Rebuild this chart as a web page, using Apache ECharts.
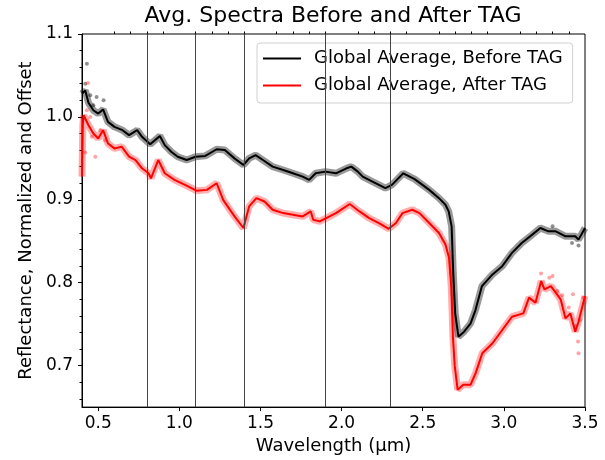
<!DOCTYPE html>
<html>
<head>
<meta charset="utf-8">
<script src="https://cdn.jsdelivr.net/npm/echarts@6/dist/echarts.min.js"></script>
<style>html,body{margin:0;padding:0;background:#fff;}#c{width:605px;height:460px;}</style>
</head>
<body>
<div id="c"></div>
<script>
// ---- data ----
const beforeX = [0.40,0.42,0.44,0.47,0.50,0.53,0.56,0.60,0.65,0.69,0.74,0.77,0.82,0.85,0.88,0.91,0.95,0.99,1.045,1.10,1.16,1.23,1.28,1.34,1.395,1.43,1.47,1.515,1.575,1.64,1.70,1.76,1.80,1.84,1.90,1.965,2.03,2.06,2.10,2.13,2.19,2.27,2.31,2.38,2.45,2.54,2.60,2.64,2.66,2.678,2.688,2.70,2.72,2.755,2.795,2.825,2.865,2.93,2.99,3.05,3.11,3.175,3.225,3.275,3.32,3.38,3.44,3.46,3.50];
const beforeY = [1.028,1.032,1.017,1.008,1.004,1.009,0.994,0.988,0.984,0.978,0.984,0.976,0.967,0.972,0.977,0.966,0.958,0.952,0.948,0.952,0.953,0.961,0.960,0.950,0.942,0.950,0.954,0.948,0.940,0.936,0.932,0.928,0.924,0.932,0.934,0.932,0.938,0.940,0.934,0.928,0.922,0.914,0.918,0.932,0.925,0.912,0.902,0.894,0.886,0.868,0.812,0.763,0.735,0.741,0.751,0.767,0.796,0.810,0.820,0.836,0.848,0.858,0.866,0.862,0.862,0.856,0.856,0.852,0.866];
const afterX = [0.400,0.405,0.41,0.42,0.44,0.47,0.50,0.53,0.56,0.60,0.645,0.69,0.73,0.77,0.81,0.825,0.87,0.91,0.97,1.035,1.105,1.17,1.23,1.27,1.34,1.395,1.43,1.475,1.525,1.575,1.64,1.70,1.76,1.81,1.825,1.865,1.905,1.965,2.05,2.11,2.17,2.23,2.29,2.335,2.375,2.435,2.48,2.54,2.60,2.64,2.662,2.676,2.686,2.697,2.715,2.75,2.795,2.826,2.867,2.93,2.99,3.05,3.12,3.155,3.195,3.23,3.25,3.29,3.35,3.38,3.41,3.44,3.46,3.50];
const afterY = [0.928,0.990,1.002,1.000,0.990,0.980,0.974,0.984,0.968,0.962,0.964,0.952,0.948,0.938,0.932,0.926,0.948,0.932,0.924,0.918,0.911,0.912,0.920,0.900,0.880,0.866,0.892,0.902,0.898,0.888,0.884,0.882,0.880,0.886,0.876,0.874,0.878,0.884,0.895,0.886,0.878,0.872,0.865,0.872,0.884,0.888,0.884,0.872,0.860,0.846,0.830,0.795,0.735,0.700,0.671,0.677,0.677,0.691,0.715,0.727,0.743,0.759,0.763,0.782,0.776,0.802,0.792,0.796,0.780,0.757,0.763,0.741,0.753,0.784];
// scattered individual points standing off the averaged curves
const beforePtsX = [0.43,0.451,0.49,0.533,0.47,0.42,3.30,3.42,3.46];
const beforePtsY = [1.064,1.026,1.024,1.020,1.014,1.040,0.868,0.848,0.845];
const afterPtsX = [0.437,0.43,0.451,0.482,0.42,0.513,0.461,0.543,3.229,3.28,3.30,3.33,3.36,3.426,3.40,3.457,3.46,3.49,3.47,3.44];
const afterPtsY = [1.041,1.008,1.000,0.952,0.957,0.984,0.976,0.972,0.811,0.806,0.808,0.790,0.785,0.786,0.770,0.729,0.715,0.782,0.755,0.748];
// band edges marked by vertical lines
const bandLines = [0.8,1.1,1.4,1.9,2.3];
// ticks
const xMajor = [0.5,1.0,1.5,2.0,2.5,3.0,3.5];
const xMinor = [0.6,0.7,0.8,0.9,1.1,1.2,1.3,1.4,1.6,1.7,1.8,1.9,2.1,2.2,2.3,2.4,2.6,2.7,2.8,2.9,3.1,3.2,3.3,3.4];
const yMajor = [0.7,0.8,0.9,1.0,1.1];
const yMinor = [0.66,0.68,0.72,0.74,0.76,0.78,0.82,0.84,0.86,0.88,0.92,0.94,0.96,0.98,1.02,1.04,1.06,1.08];
const nameBefore = 'Global Average, Before TAG';
const nameAfter = 'Global Average, After TAG';

const pairs = (xs, ys) => xs.map((x, i) => [x, ys[i]]);
const F = 'DejaVu Sans';
const chart = echarts.init(document.getElementById('c'), null, {renderer: 'canvas'});

const xBase = {type: 'value', min: 0.4, max: 3.5, gridIndex: 0, splitLine: {show: false}};
const yBase = {type: 'value', min: 0.65, max: 1.1, gridIndex: 0, splitLine: {show: false}};

chart.setOption({
  animation: false,
  backgroundColor: '#fff',
  title: {text: 'Avg. Spectra Before and After TAG', left: 333, textAlign: 'center', top: 5, padding: 0,
    textStyle: {fontFamily: F, fontSize: 22, fontWeight: 'normal', color: '#000'}},
  grid: {left: 82, right: 20, top: 34, bottom: 52, show: true, borderColor: '#000', borderWidth: 1, backgroundColor: 'transparent'},
  legend: {
    data: [nameBefore, nameAfter], orient: 'vertical', left: 257, top: 43,
    icon: 'rect', itemWidth: 38, itemHeight: 2, itemGap: 6,
    padding: [5, 10, 7, 6],
    backgroundColor: 'rgba(255,255,255,0.8)', borderColor: '#d0d0d0', borderWidth: 1, borderRadius: 3,
    textStyle: {fontFamily: F, fontSize: 18, color: '#000', lineHeight: 21, padding: [0, 0, 0, 8]}
  },
  xAxis: [
    Object.assign({}, xBase, {
      name: 'Wavelength (µm)', nameLocation: 'middle', nameGap: 27,
      nameTextStyle: {fontFamily: F, fontSize: 18, color: '#000'},
      axisLine: {show: true, lineStyle: {color: '#000', width: 1}},
      axisTick: {show: true, length: 4, lineStyle: {color: '#000'}, customValues: xMajor},
      axisLabel: {show: true, margin: 8, fontFamily: F, fontSize: 17, color: '#000', customValues: xMajor,
        formatter: v => v.toFixed(1)}
    }),
    Object.assign({}, xBase, {
      axisLine: {show: false},
      axisTick: {show: true, length: 2.5, lineStyle: {color: '#000'}, customValues: xMinor},
      axisLabel: {show: false}
    })
  ],
  yAxis: [
    Object.assign({}, yBase, {
      name: 'Reflectance, Normalized and Offset', nameLocation: 'middle', nameGap: 46,
      nameTextStyle: {fontFamily: F, fontSize: 18, color: '#000'},
      axisLine: {show: true, lineStyle: {color: '#000', width: 1}},
      axisTick: {show: true, length: 4, lineStyle: {color: '#000'}, customValues: yMajor},
      axisLabel: {show: true, margin: 9, fontFamily: F, fontSize: 17, color: '#000', customValues: yMajor,
        formatter: v => v.toFixed(1)}
    }),
    Object.assign({}, yBase, {
      position: 'left',
      axisLine: {show: false},
      axisTick: {show: true, length: 2.5, lineStyle: {color: '#000'}, customValues: yMinor},
      axisLabel: {show: false}
    })
  ],
  series: [
    {type: 'line', name: 'beforeBand', data: pairs(beforeX, beforeY), showSymbol: false, silent: true, z: 1,
      lineStyle: {color: 'rgba(0,0,0,0.4)', width: 7}, itemStyle: {color: 'rgba(0,0,0,0.4)'},
      markLine: {silent: true, symbol: 'none', label: {show: false},
        lineStyle: {color: '#444', width: 1, type: 'solid'},
        data: bandLines.map(v => ({xAxis: v}))}},
    {type: 'line', name: 'afterBand', data: pairs(afterX, afterY), showSymbol: false, silent: true, z: 1,
      lineStyle: {color: 'rgba(255,0,0,0.32)', width: 7}, itemStyle: {color: 'rgba(255,0,0,0.32)'}},
    {type: 'scatter', name: 'beforePts', data: pairs(beforePtsX, beforePtsY), symbolSize: 4, silent: true, z: 2,
      itemStyle: {color: 'rgba(0,0,0,0.55)'}},
    {type: 'scatter', name: 'afterPts', data: pairs(afterPtsX, afterPtsY), symbolSize: 4, silent: true, z: 2,
      itemStyle: {color: 'rgba(255,0,0,0.45)'}},
    {type: 'line', name: nameBefore, data: pairs(beforeX, beforeY), showSymbol: false, z: 3,
      lineStyle: {color: '#000', width: 2}, itemStyle: {color: '#000'}},
    {type: 'line', name: nameAfter, data: pairs(afterX, afterY), showSymbol: false, z: 3,
      lineStyle: {color: '#ff0000', width: 2}, itemStyle: {color: '#ff0000'}}
  ]
});
</script>
</body>
</html>
